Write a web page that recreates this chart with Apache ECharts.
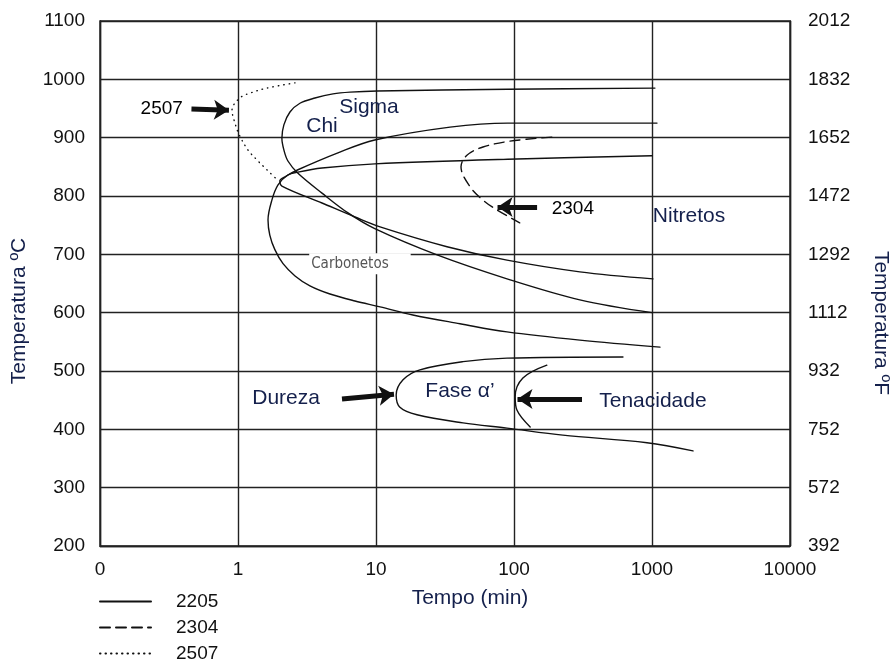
<!DOCTYPE html>
<html>
<head>
<meta charset="utf-8">
<script src="https://cdn.jsdelivr.net/npm/echarts@6.0.0/dist/echarts.min.js"></script>
<style>
html, body { margin: 0; padding: 0; background: #fff; }
#chart { width: 893px; height: 663px; }
</style>
</head>
<body>
<div id="chart"></div>
<script>
// curvas TTT: [tempo (min), temperatura (ºC)]
const sigma2205 = [[1050, 985], [90, 983], [10.2, 980], [6.48, 978], [4.88, 975], [3.61, 968], [2.81, 959], [2.38, 944], [2.15, 922], [2.08, 899], [2.15, 879], [2.3, 860], [2.72, 839], [4.06, 805], [6.27, 771], [9.8, 744], [27.7, 699], [89, 658], [300, 622], [1000, 600]]
const chi2205 = [[1087, 925], [90, 925], [34.4, 918], [9.8, 896], [5.3, 874], [2.72, 845], [2.19, 833], [2.01, 826], [2.08, 817], [4.06, 788], [7.04, 764], [10.7, 747], [32.7, 713], [89, 690], [300, 670], [1016, 658]]
const carb2205 = [[1000, 869], [90, 863], [9.8, 855], [4.06, 848], [2.72, 841], [2.3, 836], [1.95, 819], [1.76, 793], [1.65, 759], [1.7, 733], [1.85, 708], [2.12, 684], [2.59, 663], [3.32, 646], [4.64, 632], [7.04, 620], [10.7, 610], [18.5, 596], [40.6, 581], [89, 567], [300, 553], [1142, 541]]
const alfa2205 = [[616, 524], [89, 522], [42.7, 516], [20.8, 502], [15.7, 485], [14.0, 459], [14.9, 438], [19.8, 425], [42.7, 411], [89, 402], [226, 390], [920, 377], [1982, 363]]
const tenac2205 = [[173, 510], [116, 488], [102, 456], [105, 433], [131, 404]]
const curva2304 = [[188, 901], [93.5, 894], [59.6, 884], [45.6, 870], [41.3, 850], [48, 816], [59.6, 793], [75.4, 776], [110, 754]]
const curva2507 = [[2.59, 994], [1.62, 985], [1.28, 978], [1.03, 968], [0.905, 947], [0.951, 925], [1.02, 905], [1.18, 879], [1.37, 862], [1.62, 845], [1.92, 828]]

// setas: [inicio, fim]
const setas = [
    [[0.46, 949], [0.86, 947]],
    [[147, 781], [76, 781]],
    [[5.67, 452], [13.5, 460]],
    [[311, 452], [106, 452]]
]

// textos dentro do gráfico: [texto, tempo, temperatura]
const textos = [
    ["2507", 0.28, 949],
    ["Sigma", 8.9, 953],
    ["Chi", 4.06, 920],
    ["2304", 267, 778],
    ["Nitretos", 1854, 766],
    ["Dureza", 2.23, 454],
    ["Fase α’", 40.6, 466],
    ["Tenacidade", 1016, 449]
]
const carbonetos = ["Carbonetos", 7.65, 684]

const ligas = ["2205", "2304", "2507"]
const xTicks = { 0.1: "0", 1: "1", 10: "10", 100: "100", 1000: "1000", 10000: "10000" }

const FONT = "'Liberation Sans', Arial, sans-serif"
const NAVY = "#14204c"

function curva(name, data, type) {
    return {
        name: name,
        type: "line",
        data: data,
        smooth: 0.35,
        symbol: "none",
        lineStyle: { color: "#111", width: 1.4, type: type, cap: "round" },
        itemStyle: { color: "rgba(0,0,0,0)" },
        z: 3
    }
}

const myChart = echarts.init(document.getElementById("chart"))
myChart.setOption({
    animation: false,
    textStyle: { fontFamily: FONT },
    grid: {
        left: 100,
        top: 21,
        width: 690,
        height: 525,
        show: true,
        borderColor: "#222",
        borderWidth: 1.4
    },
    legend: {
        data: ligas,
        orient: "vertical",
        left: 99,
        top: 592,
        padding: 0,
        height: 90,
        itemWidth: 51,
        itemHeight: 14,
        itemGap: 7,
        itemStyle: { opacity: 0 },
        textStyle: { fontSize: 19, color: "#111", fontFamily: FONT, padding: [0, 0, 0, 20] }
    },
    xAxis: {
        type: "log",
        logBase: 10,
        min: 0.1,
        max: 10000,
        axisLine: { show: true, lineStyle: { color: "#222", width: 1.4 } },
        axisTick: { show: false },
        splitLine: { show: true, lineStyle: { color: "#222", width: 1.4 } },
        axisLabel: {
            fontSize: 19,
            color: "#111",
            margin: 14,
            formatter: v => {
                const k = v < 0.5 ? 0.1 : Math.round(v)
                return xTicks[k] !== undefined ? xTicks[k] : ""
            }
        }
    },
    yAxis: [
        {
            type: "value",
            min: 200,
            max: 1100,
            interval: 100,
            axisLine: { show: true, lineStyle: { color: "#222", width: 1.4 } },
            axisTick: { show: false },
            splitLine: { show: true, lineStyle: { color: "#222", width: 1.4 } },
            axisLabel: { fontSize: 19, color: "#111", margin: 15, formatter: v => String(v) }
        },
        {
            type: "value",
            position: "right",
            min: 200,
            max: 1100,
            interval: 100,
            axisLine: { show: true, lineStyle: { color: "#222", width: 1.4 } },
            axisTick: { show: false },
            splitLine: { show: false },
            axisLabel: {
                fontSize: 19,
                color: "#111",
                margin: 18,
                formatter: v => String(Math.round(v * 1.8 + 32))
            }
        }
    ],
    graphic: [
        {
            type: "text", x: 19, y: 311, rotation: Math.PI / 2,
            style: { text: "Temperatura ºC", font: "21px " + FONT, fill: NAVY, align: "center", verticalAlign: "middle" }
        },
        {
            type: "text", x: 881, y: 323, rotation: -Math.PI / 2,
            style: { text: "Temperatura ºF", font: "21px " + FONT, fill: NAVY, align: "center", verticalAlign: "middle" }
        },
        {
            type: "text", x: 470, y: 598,
            style: { text: "Tempo (min)", font: "21px " + FONT, fill: NAVY, align: "center", verticalAlign: "middle" }
        }
    ],
    series: [
        curva("2205", sigma2205, "solid"),
        curva("2205", chi2205, "solid"),
        curva("2205", carb2205, "solid"),
        curva("2205", alfa2205, "solid"),
        curva("2205", tenac2205, "solid"),
        curva("2304", curva2304, [10, 6]),
        curva("2507", curva2507, [0.5, 5]),
        {
            name: "setas",
            type: "lines",
            coordinateSystem: "cartesian2d",
            symbol: ["none", "arrow"],
            symbolSize: 15,
            lineStyle: { color: "#111", width: 5, opacity: 1 },
            data: setas.map(s => ({ coords: s })),
            z: 4
        },
        {
            name: "textos",
            type: "scatter",
            symbolSize: 1,
            itemStyle: { color: "rgba(0,0,0,0)", opacity: 1 },
            silent: true,
            z: 5,
            data: textos.map(t => ({
                value: [t[1], t[2]],
                label: {
                    show: true,
                    position: "inside",
                    formatter: t[0],
                    fontFamily: FONT,
                    fontSize: /^\d+$/.test(t[0]) ? 19 : 21,
                    color: /^\d+$/.test(t[0]) ? "#000" : NAVY,
                    opacity: 1
                }
            })).concat([{
                value: [carbonetos[1], carbonetos[2]],
                label: {
                    show: true,
                    position: "inside",
                    formatter: carbonetos[0],
                    fontFamily: "'Liberation Sans Narrow', 'DejaVu Sans Condensed', sans-serif",
                    fontSize: 15,
                    lineHeight: 17,
                    color: "#555",
                    backgroundColor: "#fff",
                    padding: [2, 22, 2, 2],
                    opacity: 1
                }
            }])
        }
    ]
})
</script>
</body>
</html>
